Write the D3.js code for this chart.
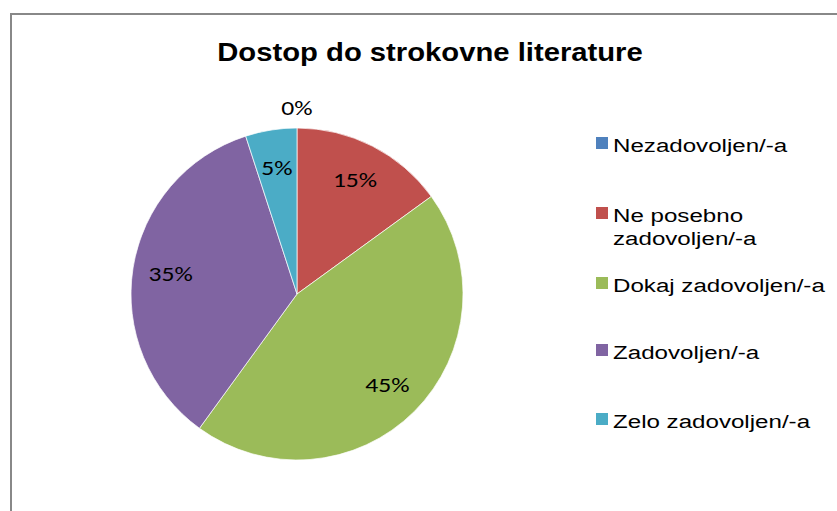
<!DOCTYPE html>
<html>
<head>
<meta charset="utf-8">
<script src="https://cdn.jsdelivr.net/npm/d3@7"></script>
<style>
body { margin: 0; background: #fff; }
</style>
</head>
<body>
<script>
var categories = ["Nezadovoljen/-a", "Ne posebno zadovoljen/-a", "Dokaj zadovoljen/-a", "Zadovoljen/-a", "Zelo zadovoljen/-a"];
var values = [0, 15, 45, 35, 5];
var legendLines = [["Nezadovoljen/-a"], ["Ne posebno", "zadovoljen/-a"], ["Dokaj zadovoljen/-a"], ["Zadovoljen/-a"], ["Zelo zadovoljen/-a"]];
var colors = ["#4F81BD", "#C0504D", "#9BBB59", "#8064A2", "#4BACC6"];
var title = "Dostop do strokovne literature";

var W = 837, H = 511;
var svg = d3.select("body").append("svg").attr("width", W).attr("height", H);

// okvir grafikona
svg.append("rect")
  .attr("x", 11).attr("y", 14)
  .attr("width", W + 10).attr("height", H + 10)
  .attr("fill", "white").attr("stroke", "#888").attr("stroke-width", 2);

// besedilo je v izvirniku raztegnjeno vodoravno
svg.append("text")
  .attr("transform", "translate(430,61) scale(1.17,1)")
  .attr("text-anchor", "middle")
  .attr("font-family", "Arial, 'Liberation Sans', sans-serif")
  .attr("font-weight", "bold").attr("font-size", 25)
  .text(title);

var cx = 297, cy = 294, r = 166;
var pie = d3.pie().sort(null).value(d => d);
var arcs = pie(values);
var arc = d3.arc().innerRadius(0).outerRadius(r);
var labelArc = d3.arc().innerRadius(r * 0.77).outerRadius(r * 0.77);

var g = svg.append("g").attr("transform", "translate(" + cx + "," + cy + ")");

g.selectAll("path")
  .data(arcs).enter().append("path")
  .attr("d", arc)
  .attr("fill", (d, i) => colors[i])
  .attr("stroke", "white").attr("stroke-width", 0.7);

g.selectAll("text")
  .data(arcs).enter().append("text")
  .attr("text-anchor", "middle")
  .attr("dominant-baseline", "central")
  .attr("font-family", "Carlito, Lato, sans-serif")
  .attr("font-size", 21)
  .attr("fill", "black")
  .attr("transform", function(d) {
    var p = d.data === 0 ? [0, -r - 20] : labelArc.centroid(d);
    return "translate(" + p + ") scale(1.22,1)";
  })
  .text(d => d.data + "%");

var legend = svg.append("g");
var rowY = [145, 215, 285, 352, 421];
categories.forEach(function(c, i) {
  legend.append("rect")
    .attr("x", 596).attr("y", rowY[i] - 8)
    .attr("width", 12).attr("height", 12)
    .attr("fill", colors[i]);
  var t = legend.append("text")
    .attr("transform", "translate(613," + rowY[i] + ") scale(1.27,1)")
    .attr("dominant-baseline", "central")
    .attr("font-family", "Arial, 'Liberation Sans', sans-serif")
    .attr("font-size", 19);
  legendLines[i].forEach(function(line, j) {
    t.append("tspan").attr("x", 0).attr("dy", j === 0 ? 0 : 23).text(line);
  });
});
</script>
</body>
</html>
